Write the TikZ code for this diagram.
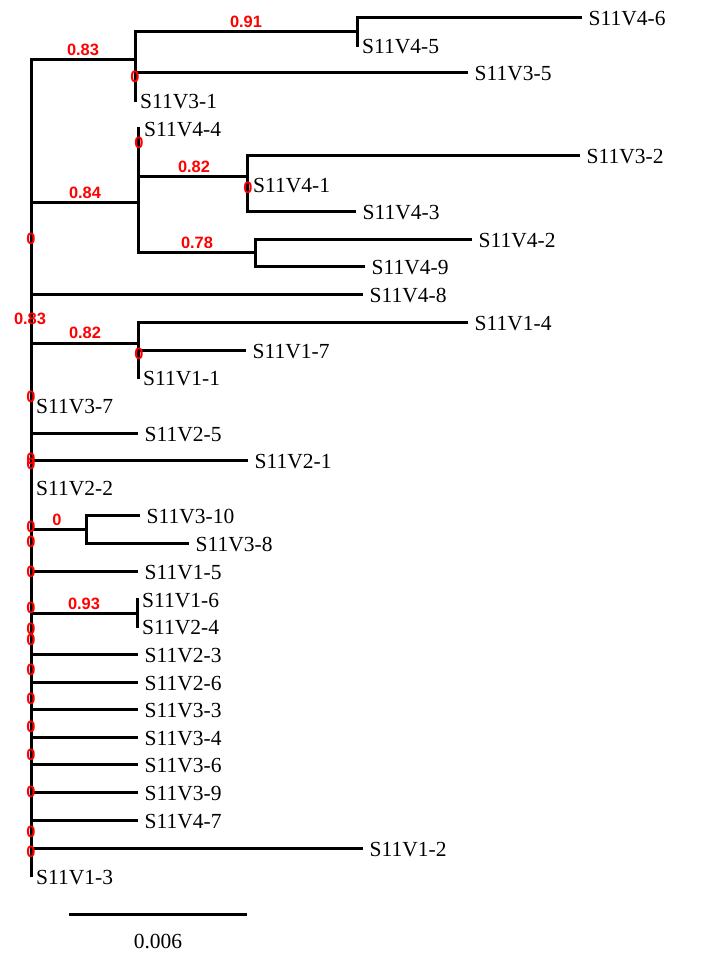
\documentclass[tikz,border=0pt]{standalone}
\usepackage{fontspec}
\setmainfont{Liberation Serif}
\newfontfamily\supfont{Liberation Sans}
\begin{document}
\begin{tikzpicture}[x=1pt,y=-1pt,
  hb/.style={line width=3pt, line cap=butt},
  vb/.style={line width=3pt, line cap=rect},
  leaf/.style={anchor=west, inner xsep=6.5pt, inner ysep=0pt, text height=16pt, text depth=0pt, font=\fontsize{21.5}{24}\selectfont},
  zleaf/.style={anchor=west, inner xsep=5pt, inner ysep=0pt, text height=16pt, text depth=0pt, font=\fontsize{21.5}{24}\selectfont},
  sup/.style={text=red, inner sep=0pt, font=\supfont\bfseries\fontsize{16.4}{18}\selectfont},
  scaletxt/.style={inner sep=0pt, font=\fontsize{21.5}{24}\selectfont}]
\useasboundingbox (0,0) rectangle (709,961);

% ---------- internal coordinates ----------
\coordinate (Rt) at (31,59);   \coordinate (Rb) at (31,875);
\coordinate (A)  at (135,59);  \coordinate (At) at (135,31);  \coordinate (Ab) at (135,100);
\coordinate (A1) at (357,31);  \coordinate (A1t) at (357,17); \coordinate (A1b) at (357,45);
\coordinate (Rbj) at (31,202); \coordinate (B)  at (138,202);
\coordinate (Bt) at (138,128); \coordinate (Bb) at (138,252);
\coordinate (Bm) at (138,176);
\coordinate (B1) at (247,176); \coordinate (B1t) at (247,155); \coordinate (B1b) at (247,211);
\coordinate (B2) at (255,252); \coordinate (B2t) at (255,239); \coordinate (B2b) at (255,266);
\coordinate (Rcj) at (31,343); \coordinate (C)  at (138,343);
\coordinate (Ct) at (138,322); \coordinate (Cb) at (138,377);
\coordinate (Rdj) at (31,529); \coordinate (D)  at (86,529);
\coordinate (Dt) at (86,515);  \coordinate (Db) at (86,543);
\coordinate (Rej) at (31,613); \coordinate (E)  at (137,613);
\coordinate (Et) at (137,599); \coordinate (Eb) at (137,626);

% ---------- leaves with branches ----------
\node[leaf] (l46) at (582,17)  {S11V4-6};
\node[leaf] (l35) at (468,72)  {S11V3-5};
\node[leaf] (l32) at (580,155) {S11V3-2};
\node[leaf] (l43) at (356,211) {S11V4-3};
\node[leaf] (l42) at (472,239) {S11V4-2};
\node[leaf] (l49) at (365,266) {S11V4-9};
\node[leaf] (l48) at (363,294) {S11V4-8};
\node[leaf] (l14) at (468,322) {S11V1-4};
\node[leaf] (l17) at (246,350) {S11V1-7};
\node[leaf] (l25) at (138,433) {S11V2-5};
\node[leaf] (l21) at (248,460) {S11V2-1};
\node[leaf] (l310) at (140,515) {S11V3-10};
\node[leaf] (l38) at (189,543) {S11V3-8};
\node[leaf] (l15) at (138,571) {S11V1-5};
\node[leaf] (l23) at (138,654) {S11V2-3};
\node[leaf] (l26) at (138,682) {S11V2-6};
\node[leaf] (l33) at (138,709) {S11V3-3};
\node[leaf] (l34) at (138,737) {S11V3-4};
\node[leaf] (l36) at (138,764) {S11V3-6};
\node[leaf] (l39) at (138,792) {S11V3-9};
\node[leaf] (l47) at (138,820) {S11V4-7};
\node[leaf] (l12) at (363,848) {S11V1-2};

% ---------- zero-length leaves ----------
\node[zleaf] (l45) at (357,45)  {S11V4-5};
\node[zleaf] (l31) at (135,100) {S11V3-1};
\node[zleaf] (l44) at (139,128) {S11V4-4};
\node[zleaf] (l41) at (248,184) {S11V4-1};
\node[zleaf] (l11) at (138,377) {S11V1-1};
\node[zleaf] (l37) at (31,405)  {S11V3-7};
\node[zleaf] (l22) at (31,487)  {S11V2-2};
\node[zleaf] (l16) at (137,599) {S11V1-6};
\node[zleaf] (l24) at (137,626) {S11V2-4};
\node[zleaf] (l13) at (31,876)  {S11V1-3};

% ---------- branches ----------
\draw[vb] (Rt) -- (Rb);
% clade A
\draw[hb] (Rt) -- (A);
\draw[vb] (At) -- (Ab);
\draw[hb] (At) -- (A1);
\draw[vb] (A1t) -- (A1b);
\draw[hb] (A1t) -- (l46.west);
\draw[hb] (A |- l35) -- (l35.west);
% clade B
\draw[hb] (Rbj) -- (B);
\draw[vb] (Bt) -- (Bb);
\draw[hb] (Bm) -- (B1);
\draw[vb] (B1t) -- (B1b);
\draw[hb] (B1t) -- (l32.west);
\draw[hb] (B1b) -- (l43.west);
\draw[hb] (Bb) -- (B2);
\draw[vb] (B2t) -- (B2b);
\draw[hb] (B2t) -- (l42.west);
\draw[hb] (B2b) -- (l49.west);
% single leaf
\draw[hb] (Rt |- l48) -- (l48.west);
% clade C
\draw[hb] (Rcj) -- (C);
\draw[vb] (Ct) -- (Cb);
\draw[hb] (Ct) -- (l14.west);
\draw[hb] (C |- l17) -- (l17.west);
% root leaves
\draw[hb] (Rt |- l25) -- (l25.west);
\draw[hb] (Rt |- l21) -- (l21.west);
% clade D
\draw[hb] (Rdj) -- (D);
\draw[vb] (Dt) -- (Db);
\draw[hb] (Dt) -- (l310.west);
\draw[hb] (Db) -- (l38.west);
\draw[hb] (Rt |- l15) -- (l15.west);
% clade E
\draw[hb] (Rej) -- (E);
\draw[vb] (Et) -- (Eb);
% more root leaves
\draw[hb] (Rt |- l23) -- (l23.west);
\draw[hb] (Rt |- l26) -- (l26.west);
\draw[hb] (Rt |- l33) -- (l33.west);
\draw[hb] (Rt |- l34) -- (l34.west);
\draw[hb] (Rt |- l36) -- (l36.west);
\draw[hb] (Rt |- l39) -- (l39.west);
\draw[hb] (Rt |- l47) -- (l47.west);
\draw[hb] (Rt |- l12) -- (l12.west);

% ---------- support values ----------
\node[sup] (s1) at (83,50)   {0.83};
\node[sup] (s2) at (246,22)  {0.91};
\node[sup] (s3) at (85,193)  {0.84};
\node[sup] (s4) at (194,167) {0.82};
\node[sup] (s5) at (197,243) {0.78};
\node[sup] (s6) at (30,319)  {0.83};
\node[sup] (s7) at (85,333)  {0.82};
\node[sup] (s8) at (57,520)  {0};
\node[sup] (s9) at (84,604)  {0.93};

\node[sup] (z1) at (135,77)  {0};
\node[sup] (z2) at (139,143) {0};
\node[sup] (z3) at (248,188) {0};
\node[sup] (z4) at (139,354) {0};
\node[sup] (z5) at (31,239)  {0};
\node[sup] (z6) at (31,397)  {0};
\node[sup] (z7) at (31,459)  {0};
\node[sup] (z8) at (31,464)  {0};
\node[sup] (z9) at (31,527)  {0};
\node[sup] (z10) at (31,542) {0};
\node[sup] (z11) at (31,572) {0};
\node[sup] (z12) at (31,608) {0};
\node[sup] (z13) at (31,629) {0};
\node[sup] (z14) at (31,640) {0};
\node[sup] (z15) at (31,670) {0};
\node[sup] (z16) at (31,699) {0};
\node[sup] (z17) at (31,727) {0};
\node[sup] (z18) at (31,755) {0};
\node[sup] (z19) at (31,792) {0};
\node[sup] (z20) at (31,832) {0};
\node[sup] (z21) at (31,852) {0};

% ---------- scale bar ----------
\coordinate (sbl) at (69,914);
\coordinate (sbr) at (247,914);
\draw[hb] (sbl) -- (sbr);
\node[scaletxt] (sbt) at (158,941) {0.006};
\end{tikzpicture}
\end{document}
